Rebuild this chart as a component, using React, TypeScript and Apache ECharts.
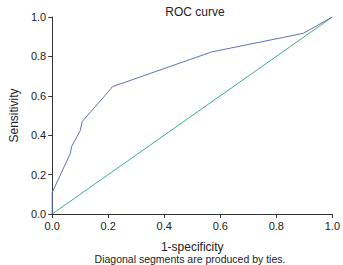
import React, { useEffect, useRef } from "react";
import * as echarts from "echarts";

// ROC curve coordinates: 1-specificity (x) vs sensitivity (y)
const rocFpr = [0, 0, 0.065, 0.069, 0.1, 0.107, 0.211, 0.214, 0.57, 0.896, 1];
const rocTpr = [0, 0.11, 0.308, 0.342, 0.423, 0.469, 0.638, 0.646, 0.823, 0.917, 1];
// Reference (chance) line
const refFpr = [0, 1];
const refTpr = [0, 1];

const titleText = "ROC curve";
const xName = "1-specificity";
const yName = "Sensitivity";
const footnote = "Diagonal segments are produced by ties.";

export default function App() {
  const ref = useRef<HTMLDivElement>(null);
  useEffect(() => {
    if (!ref.current) return;
    const chart = echarts.init(ref.current, undefined, { renderer: "svg" });
    const font = "'Liberation Sans', Arial, sans-serif";
    const axisCommon = {
      type: "value" as const,
      min: 0,
      max: 1,
      interval: 0.2,
      splitLine: { show: false },
      axisLine: { show: true, onZero: false, lineStyle: { color: "#333", width: 1 } },
      axisTick: { show: true, length: 4, lineStyle: { color: "#333" } },
      axisLabel: {
        color: "#222",
        fontSize: 11,
        fontFamily: font,
        margin: 6,
        formatter: (v: number) => v.toFixed(1),
      },
      nameLocation: "middle" as const,
      nameTextStyle: { fontSize: 12, color: "#222", fontFamily: font },
    };
    chart.setOption({
      animation: false,
      title: {
        text: titleText,
        left: 190,
        top: 1,
        textAlign: "center",
        textStyle: { fontSize: 12, fontWeight: "normal", color: "#222", fontFamily: font },
      },
      grid: { left: 46, right: 10, top: 17, bottom: 51 },
      xAxis: { ...axisCommon, name: xName, nameGap: 27 },
      yAxis: { ...axisCommon, name: yName, nameGap: 28 },
      graphic: [
        {
          type: "text",
          x: 190,
          y: 253,
          style: {
            text: footnote,
            fontSize: 10.5,
            fill: "#222",
            fontFamily: font,
            textAlign: "center",
            textVerticalAlign: "top",
          },
        },
      ],
      series: [
        {
          type: "line",
          data: refFpr.map((x, i) => [x, refTpr[i]]),
          symbol: "none",
          lineStyle: { color: "#3db37a", width: 1 },
          z: 2,
        },
        {
          type: "line",
          data: rocFpr.map((x, i) => [x, rocTpr[i]]),
          symbol: "none",
          lineStyle: { color: "#6470b4", width: 1 },
          z: 3,
        },
      ],
    });
    return () => chart.dispose();
  }, []);
  return (
    <div
      ref={ref}
      style={{ position: "fixed", left: 0, top: 0, width: 343, height: 265, background: "#fff" }}
    />
  );
}
